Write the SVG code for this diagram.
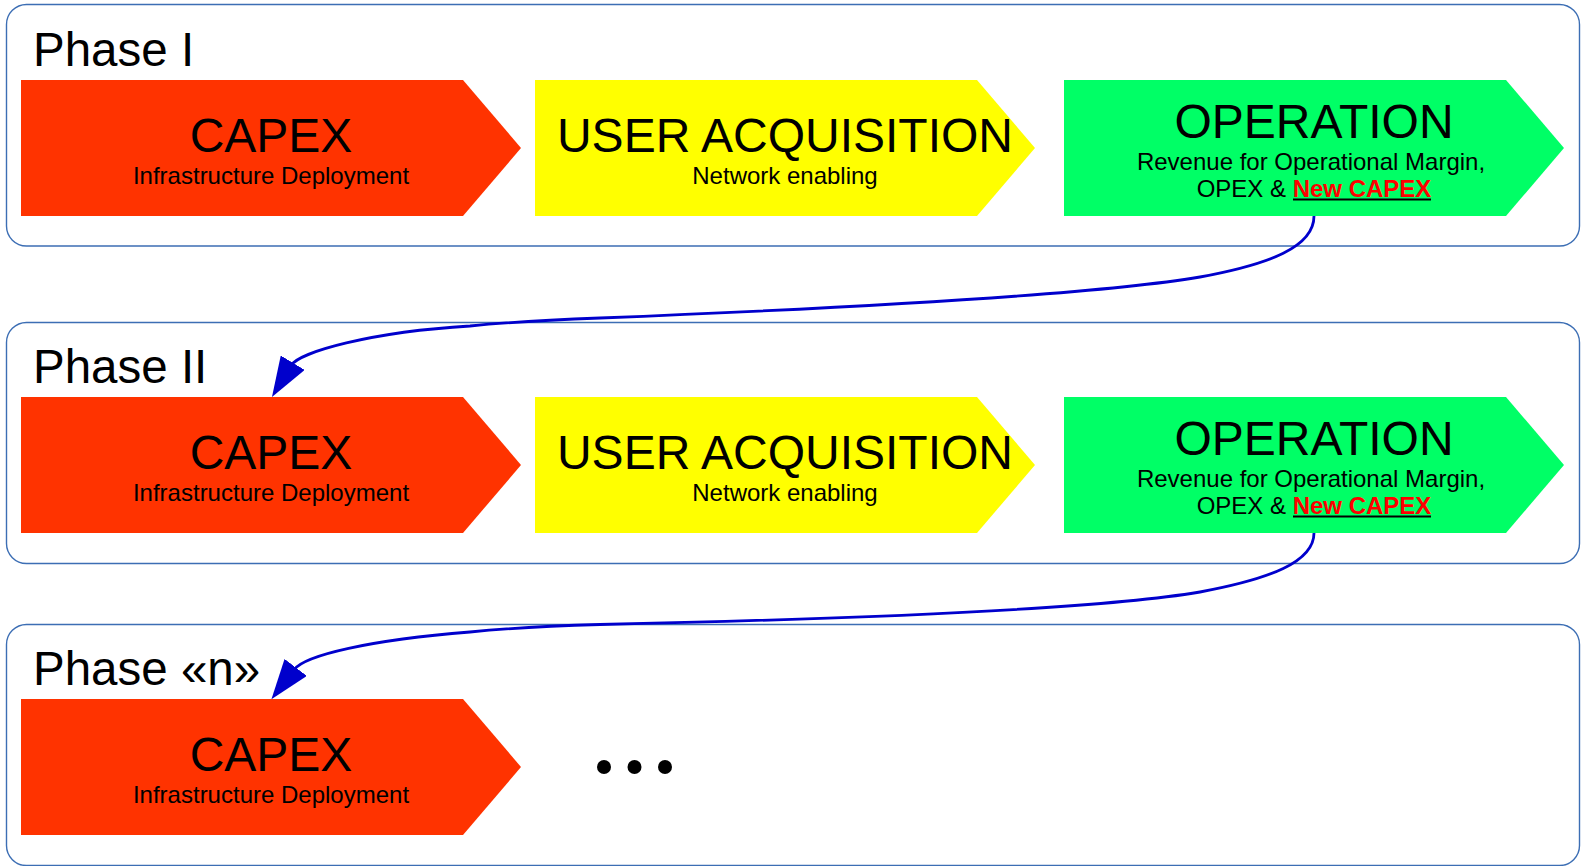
<svg xmlns="http://www.w3.org/2000/svg" width="1582" height="866" viewBox="0 0 1582 866">
<style>
.box{fill:#ffffff;stroke:#3c6eb4;stroke-width:1.4}
.capex{fill:#ff3300}
.ua{fill:#ffff00}
.op{fill:#00ff66}
text{font-family:"Liberation Sans",Arial,sans-serif;fill:#000000}
.phase{font-size:47.5px}
.title{font-size:48px;text-anchor:middle}
.sub{font-size:24px;text-anchor:middle}
.newcap{fill:#ff0000;font-weight:bold}
.uline{stroke:#000000;stroke-width:2}
.conn{fill:none;stroke:#0000cc;stroke-width:2.8}
.dot{fill:#000000}
</style>
<defs>
<marker id="ah" viewBox="0 0 40 28" refX="28" refY="14" markerWidth="40" markerHeight="28" markerUnits="userSpaceOnUse" orient="auto">
<path d="M0,0 L40,14 L0,28 z" fill="#0000cc"/>
</marker>
<polygon id="chev" points="0,0 442,0 500,68 442,136 0,136"/>
</defs>

<g id="phase1">
<rect class="box" x="6.5" y="4.5" width="1573" height="241.5" rx="20"/>
<text class="phase" x="33" y="65.5">Phase I</text>
</g>
<g id="phase2">
<rect class="box" x="6.5" y="322.5" width="1573" height="241" rx="20"/>
<text class="phase" x="33" y="382.5">Phase II</text>
</g>
<g id="phaseN">
<rect class="box" x="6.5" y="624.5" width="1573" height="241" rx="20"/>
<text class="phase" x="33" y="684.5">Phase «n»</text>
</g>

<g id="p1-capex">
<use href="#chev" x="21" y="80" class="capex"/>
<text class="title" x="271" y="152">CAPEX</text>
<text class="sub" x="271" y="183.5">Infrastructure Deployment</text>
</g>
<g id="p1-ua">
<use href="#chev" x="535" y="80" class="ua"/>
<text class="title" x="785" y="152">USER ACQUISITION</text>
<text class="sub" x="785" y="183.5">Network enabling</text>
</g>
<g id="p1-op">
<use href="#chev" x="1064" y="80" class="op"/>
<text class="title" x="1314" y="137.5">OPERATION</text>
<text class="sub" x="1311" y="170">Revenue for Operational Margin,</text>
<text class="sub" x="1314" y="196.5">OPEX &amp; <tspan class="newcap">New CAPEX</tspan></text>
<line class="uline" x1="1293" y1="199.5" x2="1431" y2="199.5"/>
</g>

<g id="p2-capex" transform="translate(0,317)">
<use href="#chev" x="21" y="80" class="capex"/>
<text class="title" x="271" y="152">CAPEX</text>
<text class="sub" x="271" y="183.5">Infrastructure Deployment</text>
</g>
<g id="p2-ua" transform="translate(0,317)">
<use href="#chev" x="535" y="80" class="ua"/>
<text class="title" x="785" y="152">USER ACQUISITION</text>
<text class="sub" x="785" y="183.5">Network enabling</text>
</g>
<g id="p2-op" transform="translate(0,317)">
<use href="#chev" x="1064" y="80" class="op"/>
<text class="title" x="1314" y="137.5">OPERATION</text>
<text class="sub" x="1311" y="170">Revenue for Operational Margin,</text>
<text class="sub" x="1314" y="196.5">OPEX &amp; <tspan class="newcap">New CAPEX</tspan></text>
<line class="uline" x1="1293" y1="199.5" x2="1431" y2="199.5"/>
</g>

<g id="pn-capex" transform="translate(0,619)">
<use href="#chev" x="21" y="80" class="capex"/>
<text class="title" x="271" y="152">CAPEX</text>
<text class="sub" x="271" y="183.5">Infrastructure Deployment</text>
</g>
<g id="pn-more">
<circle class="dot" cx="604" cy="767" r="7"/>
<circle class="dot" cx="634.5" cy="767" r="7"/>
<circle class="dot" cx="665" cy="767" r="7"/>
</g>

<g id="connectors">
<path class="conn" marker-end="url(#ah)" d="M1314,216 C1314,247 1270,264 1200,277 C1100,294 850,308 600,318 C550,320 510,322 470,326 C370,332 300,352 291.2,365.3 L278.2,386.7"/>
<path class="conn" marker-end="url(#ah)" d="M1314,533 C1314,562 1270,579 1200,592 C1100,609 850,619 600,624.5 C550,626 510,628 470,632 C370,640 305,655 293.9,669.8 L278.7,689.7"/>
</g>
</svg>
